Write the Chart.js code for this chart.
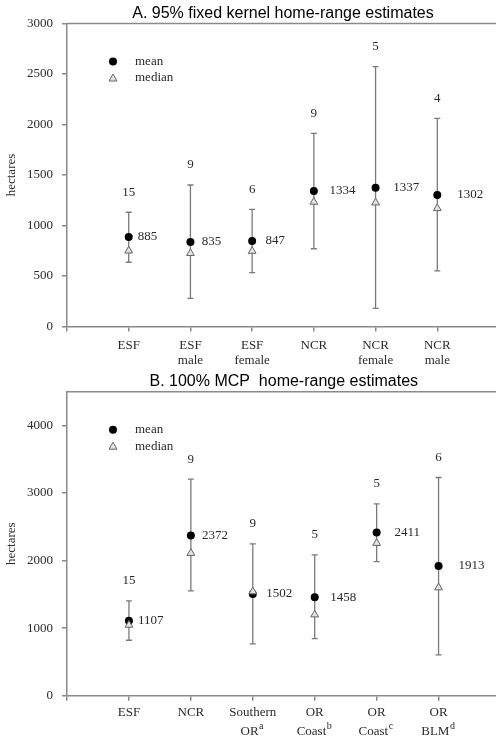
<!DOCTYPE html>
<html>
<head>
<meta charset="utf-8">
<script src="https://cdn.jsdelivr.net/npm/chart.js@4.4.1/dist/chart.umd.min.js"></script>
<style>
  html, body { margin: 0; padding: 0; background: #fff; overflow: hidden; width: 496px; height: 741px; }
  canvas { position: absolute; left: 0; }
  #graficaA { top: 0; }
  #graficaB { top: 370px; }
</style>
</head>
<body>
<canvas id="graficaA" width="506" height="370"></canvas>
<canvas id="graficaB" width="506" height="371"></canvas>
<script>
// Panel A: 95% fixed kernel
var categoriasA = [['ESF'], ['ESF', 'male'], ['ESF', 'female'], ['NCR'], ['NCR', 'female'], ['NCR', 'male']];
var superA = ['', '', '', '', '', ''];
var mediaA = [886, 837, 847, 1342, 1374, 1302];
var textoMediaA = ['885', '835', '847', '1334', '1337', '1302'];
var medianaA = [750, 725, 747, 1233, 1226, 1170];
var altoA = [1131, 1401, 1160, 1913, 2573, 2061];
var bajoA = [636, 279, 533, 770, 180, 550];
var nA = ['15', '9', '6', '9', '5', '4'];
var ticksYA = [0, 500, 1000, 1500, 2000, 2500, 3000];

// Panel B: 100% MCP
var categoriasB = [['ESF'], ['NCR'], ['Southern', 'OR'], ['OR', 'Coast'], ['OR', 'Coast'], ['OR', 'BLM']];
var superB = ['', '', 'a', 'b', 'c', 'd'];
var mediaB = [1111, 2370, 1507, 1458, 2415, 1921];
var textoMediaB = ['1107', '2372', '1502', '1458', '2411', '1913'];
var medianaB = [1047, 2110, 1541, 1200, 2258, 1600];
var altoB = [1403, 3206, 2247, 2084, 2840, 3230];
var bajoB = [821, 1551, 766, 844, 1985, 603];
var nB = ['15', '9', '9', '5', '5', '6'];
var ticksYB = [0, 1000, 2000, 3000, 4000];

var gris = '#8a8a8a';
var serif = "'Liberation Serif', 'Times New Roman', serif";

// barras de error, etiquetas, leyenda, titulo y borde superior
var pluginExtras = {
  id: 'extras',
  beforeDatasetsDraw: function(chart, args, opts) {
    var ctx = chart.ctx, sx = chart.scales.x, sy = chart.scales.y;
    ctx.save();
    ctx.strokeStyle = '#7a7a7a';
    ctx.lineWidth = 1.3;
    opts.alto.forEach(function(h, i) {
      var px = sx.getPixelForValue(i + 1);
      var pt = sy.getPixelForValue(h);
      var pb = sy.getPixelForValue(opts.bajo[i]);
      ctx.beginPath();
      ctx.moveTo(px, pt); ctx.lineTo(px, pb);
      ctx.moveTo(px - 3, pt); ctx.lineTo(px + 3, pt);
      ctx.moveTo(px - 3, pb); ctx.lineTo(px + 3, pb);
      ctx.stroke();
    });
    ctx.restore();
  },
  afterDatasetsDraw: function(chart, args, opts) {
    var ctx = chart.ctx, sx = chart.scales.x, sy = chart.scales.y, area = chart.chartArea;
    ctx.save();
    ctx.font = '13px ' + serif;
    ctx.fillStyle = '#2a2a2a';
    ctx.textBaseline = 'middle';
    // tamaño de muestra
    ctx.textAlign = 'center';
    opts.n.forEach(function(t, i) {
      ctx.fillText(t, sx.getPixelForValue(i + 1), sy.getPixelForValue(opts.alto[i]) - 20);
    });
    // valor de la media
    ctx.textAlign = 'left';
    opts.texto.forEach(function(t, i) {
      ctx.fillText(t, sx.getPixelForValue(i + 1) + 9 + 2.2 * i, sy.getPixelForValue(opts.media[i]));
    });
    // leyenda
    var lx = area.left + 46, ly = area.top + 38;
    ctx.fillStyle = '#000';
    ctx.beginPath();
    ctx.arc(lx, ly, 4, 0, Math.PI * 2);
    ctx.fill();
    ctx.beginPath();
    ctx.moveTo(lx, ly + 12.5);
    ctx.lineTo(lx + 4, ly + 19.5);
    ctx.lineTo(lx - 4, ly + 19.5);
    ctx.closePath();
    ctx.fillStyle = '#e2e2e2';
    ctx.fill();
    ctx.strokeStyle = '#666';
    ctx.lineWidth = 1;
    ctx.stroke();
    ctx.fillStyle = '#2a2a2a';
    ctx.fillText('mean', lx + 22, ly);
    ctx.fillText('median', lx + 22, ly + 16.5);

    // superindices de las etiquetas del eje x
    var lineaH = 13 * opts.altoLinea;
    opts.sup.forEach(function(s, i) {
      if (!s) return;
      var lineas = opts.cats[i];
      var ultima = lineas[lineas.length - 1];
      ctx.font = '13px ' + serif;
      var w = ctx.measureText(ultima + '  ').width;
      var wSin = ctx.measureText(ultima).width;
      var x0 = sx.getPixelForValue(i + 1) - w / 2 + wSin + 0.5;
      var y0 = area.bottom + 5 + opts.relleno + lineaH * (lineas.length - 0.5) - 5;
      ctx.font = '10px ' + serif;
      ctx.fillText(s, x0, y0);
    });
    ctx.restore();
  },
  afterDraw: function(chart, args, opts) {
    var ctx = chart.ctx, area = chart.chartArea;
    ctx.save();
    ctx.strokeStyle = gris;
    ctx.lineWidth = 1.5;
    ctx.beginPath();
    ctx.moveTo(area.left, area.top);
    ctx.lineTo(area.right, area.top);
    ctx.stroke();
    ctx.font = "16px 'Liberation Sans', Arial, sans-serif";
    ctx.fillStyle = '#000';
    ctx.textAlign = 'center';
    ctx.textBaseline = 'alphabetic';
    ctx.fillText(opts.titulo, (area.left + area.right) / 2, area.top - 5.5);
    ctx.restore();
  }
};

function crearPanel(id, cats, sup, media, texto, mediana, alto, bajo, n, ticksY, maxY, titulo, arriba, altoEjeX, relleno, altoLinea) {
  var ctx = document.getElementById(id).getContext('2d');
  return new Chart(ctx, {
    type: 'scatter',
    data: {
      datasets: [{
        label: 'mean',
        data: media.map(function(v, i) { return { x: i + 1, y: v }; }),
        pointStyle: 'circle',
        pointRadius: 4,
        backgroundColor: '#000',
        borderColor: '#000',
        borderWidth: 0,
        order: 1
      }, {
        label: 'median',
        data: mediana.map(function(v, i) { return { x: i + 1, y: v }; }),
        pointStyle: 'triangle',
        pointRadius: 4.5,
        backgroundColor: '#e2e2e2',
        borderColor: '#666',
        borderWidth: 1,
        order: 0
      }]
    },
    options: {
      responsive: false,
      animation: false,
      layout: { padding: { top: arriba, right: 0, left: 0, bottom: 0 } },
      plugins: {
        legend: { display: false },
        tooltip: { enabled: false },
        extras: { alto: alto, bajo: bajo, n: n, texto: texto, media: media, titulo: titulo,
                  cats: cats, sup: sup, relleno: relleno, altoLinea: altoLinea }
      },
      scales: {
        x: {
          type: 'linear',
          min: 0,
          max: 7,
          afterFit: function(scale) { scale.height = altoEjeX; },
          ticks: {
            stepSize: 1,
            autoSkip: false,
            maxRotation: 0,
            padding: relleno,
            color: '#2a2a2a',
            font: { family: serif, size: 13, lineHeight: altoLinea },
            callback: function(v) {
              var c = cats[v - 1];
              if (!c) return '';
              if (!sup[v - 1]) return c;
              var l = c.slice();
              l[l.length - 1] = l[l.length - 1] + '  ';
              return l;
            }
          },
          grid: { drawOnChartArea: false, drawTicks: true, tickLength: 5, color: gris, lineWidth: 1.5 },
          border: { display: true, color: gris, width: 1.5 }
        },
        y: {
          type: 'linear',
          min: 0,
          max: maxY,
          afterFit: function(scale) { scale.width = 67; },
          afterBuildTicks: function(scale) {
            scale.ticks = ticksY.map(function(v) { return { value: v }; });
          },
          ticks: {
            padding: 9,
            color: '#2a2a2a',
            font: { family: serif, size: 13 },
            callback: function(v) { return String(v); }
          },
          title: {
            display: true,
            text: 'hectares',
            color: '#2a2a2a',
            font: { family: serif, size: 13 },
            padding: { top: 4, bottom: 0 }
          },
          grid: { drawOnChartArea: false, drawTicks: true, tickLength: 5, color: gris, lineWidth: 1.5 },
          border: { display: true, color: gris, width: 1.5 }
        }
      }
    },
    plugins: [pluginExtras]
  });
}

var graficaA = crearPanel('graficaA', categoriasA, superA, mediaA, textoMediaA, medianaA, altoA, bajoA, nA,
  ticksYA, 3000, 'A. 95% fixed kernel home-range estimates', 23.5, 43.5, 7, 1.15);
var graficaB = crearPanel('graficaB', categoriasB, superB, mediaB, textoMediaB, medianaB, altoB, bajoB, nB,
  ticksYB, 4500, 'B. 100% MCP  home-range estimates', 21.7, 45.3, 2.6, 1.45);
</script>
</body>
</html>
